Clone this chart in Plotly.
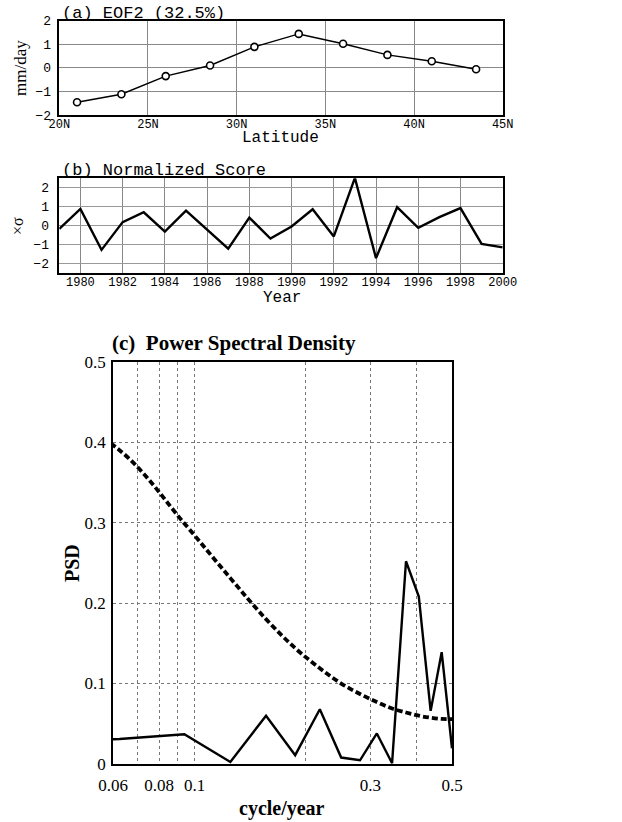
import plotly.graph_objects as go

# ---------------- data ----------------
# (a) EOF2 loading vs latitude
lat = [21, 23.5, 26, 28.5, 31, 33.5, 36, 38.5, 41, 43.5]
eof2 = [-1.46, -1.12, -0.35, 0.10, 0.89, 1.44, 1.02, 0.55, 0.28, -0.06]
lat_ticks = [20, 25, 30, 35, 40, 45]
lat_labels = ["20N", "25N", "30N", "35N", "40N", "45N"]

# (b) normalized score
years = list(range(1979, 2001))
score = [-0.18, 0.88, -1.29, 0.18, 0.70, -0.32, 0.79, -0.22, -1.23, 0.42, -0.69,
         -0.05, 0.86, -0.58, 2.52, -1.73, 0.97, -0.12, 0.44, 0.92, -0.97, -1.16]

# (c) power spectral density
freq = [0.03125, 0.0625, 0.09375, 0.125, 0.15625, 0.1875, 0.21875, 0.25, 0.28125,
        0.3125, 0.34375, 0.375, 0.40625, 0.4375, 0.46875, 0.5]
psd = [0.028, 0.031, 0.037, 0.0025, 0.060, 0.011, 0.068, 0.008, 0.0046,
       0.038, 0.001, 0.252, 0.208, 0.066, 0.139, 0.0195]
red_noise = [0.470, 0.390, 0.299, 0.231, 0.180, 0.144, 0.119, 0.100, 0.087,
             0.077, 0.069, 0.064, 0.060, 0.0576, 0.0561, 0.0557]
c_xticks = [0.06, 0.07, 0.08, 0.09, 0.1, 0.2, 0.3, 0.4, 0.5]
c_xlabels = ["0.06", "", "0.08", "", "0.1", "", "0.3", "", "0.5"]

# ---------------- figure ----------------
W, H = 622, 822
def px(x): return x / W
def py(y): return 1 - y / H

MONO = "Liberation Mono"
SERIF = "Liberation Serif"

fig = go.Figure()
fig.add_trace(go.Scatter(x=lat, y=eof2, mode="lines+markers", xaxis="x", yaxis="y",
                         line=dict(color="black", width=1.5),
                         marker=dict(symbol="circle", size=7, color="white",
                                     line=dict(color="black", width=1.6)),
                         showlegend=False))
fig.add_trace(go.Scatter(x=years, y=score, mode="lines", xaxis="x2", yaxis="y2",
                         line=dict(color="black", width=2.4), showlegend=False))
fig.add_trace(go.Scatter(x=freq, y=red_noise, mode="lines", xaxis="x3", yaxis="y3",
                         line=dict(color="black", width=3.8, dash="6px,3px", shape="spline"),
                         showlegend=False))
fig.add_trace(go.Scatter(x=freq, y=psd, mode="lines", xaxis="x3", yaxis="y3",
                         line=dict(color="black", width=2.4), showlegend=False))

axis_common = dict(showline=True, linecolor="black", linewidth=1.5, mirror=True,
                   zeroline=False, ticks="", showgrid=True, automargin=False)

fig.update_layout(
    width=W, height=H, margin=dict(l=0, r=0, t=0, b=0, autoexpand=False),
    paper_bgcolor="white", plot_bgcolor="white",
    xaxis=dict(**axis_common, domain=[px(59.3), px(502.7)], anchor="y",
               range=[20, 45], tickvals=lat_ticks, ticktext=lat_labels,
               gridcolor="#888", gridwidth=1, ticklabelstandoff=-3,
               tickfont=dict(family=MONO, size=12, color="black")),
    yaxis=dict(**axis_common, domain=[py(115), py(20.7)], anchor="x",
               range=[-2, 2], tickvals=[-2, -1, 0, 1, 2],
               gridcolor="#888", gridwidth=1, ticklabelstandoff=4,
               tickfont=dict(family=MONO, size=13, color="black")),
    xaxis2=dict(**axis_common, domain=[px(59.3), px(502.7)], anchor="y2",
                range=[1979, 2000], tickvals=list(range(1980, 2001, 2)),
                gridcolor="#888", gridwidth=1, ticklabelstandoff=-3,
                tickfont=dict(family=MONO, size=12, color="black")),
    yaxis2=dict(**axis_common, domain=[py(272.7), py(178.3)], anchor="x2",
                range=[-2.5, 2.5], tickvals=[-2, -1, 0, 1, 2],
                gridcolor="#999", gridwidth=1, ticklabelstandoff=6,
                tickfont=dict(family=MONO, size=13, color="black")),
    xaxis3=dict(**axis_common, domain=[px(113), px(452)], anchor="y3", type="log",
                range=[-1.2218487, -0.30103], tickvals=c_xticks, ticktext=c_xlabels,
                gridcolor="#777", gridwidth=1, griddash="dot", ticklabelstandoff=5,
                tickfont=dict(family=SERIF, size=17, color="black")),
    yaxis3=dict(**axis_common, domain=[py(764), py(361.7)], anchor="x3",
                range=[0, 0.5], tickvals=[0, 0.1, 0.2, 0.3, 0.4, 0.5],
                gridcolor="#777", gridwidth=1, griddash="dot", ticklabelstandoff=2,
                tickfont=dict(family=SERIF, size=17, color="black")),
)

ann = []
def text(x, y, s, font, size, angle=0, xanchor="center", yanchor="middle", bold=False):
    if bold:
        s = "<b>" + s + "</b>"
    ann.append(dict(x=px(x), y=py(y), xref="paper", yref="paper", text=s, showarrow=False,
                    xanchor=xanchor, yanchor=yanchor, textangle=angle,
                    font=dict(family=font, size=size, color="black")))

text(60, 14, "(a) EOF2 (32.5%)", MONO, 17, xanchor="left")
text(280, 138, "Latitude", MONO, 16)
text(20, 68, "mm/day", SERIF, 17, angle=-90)
text(60, 170.5, "(b) Normalized Score", MONO, 17, xanchor="left")
text(282, 298, "Year", MONO, 16)
text(17, 226, "×σ", SERIF, 16, angle=-90)
text(110, 343, "(c)  Power Spectral Density", SERIF, 21, xanchor="left", bold=True)
text(282, 808, "cycle/year", SERIF, 20, bold=True)
text(72, 563, "PSD", SERIF, 20, angle=-90, bold=True)

fig.update_layout(annotations=ann)
fig.write_html("out.html", post_script="document.body.style.margin='0px';",
               config={"displayModeBar": False})
